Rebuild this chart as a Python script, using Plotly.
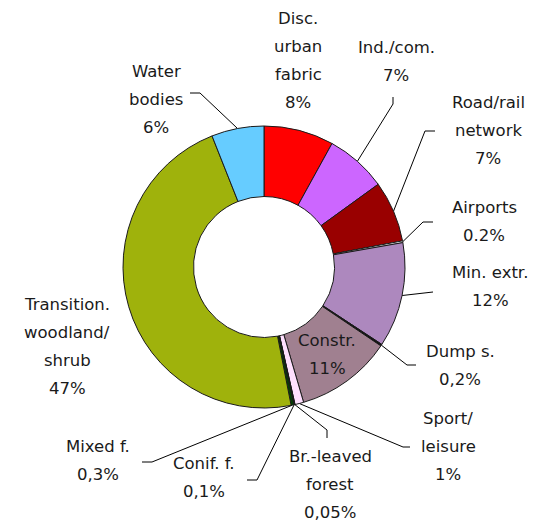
import math
import plotly.graph_objects as go

# ---- data ----
categories = ["Disc. urban fabric", "Ind./com.", "Road/rail network", "Airports",
              "Min. extr.", "Dump s.", "Constr.", "Sport/leisure",
              "Br.-leaved forest", "Conif. f.", "Mixed f.",
              "Transition. woodland/shrub", "Water bodies"]
values = [8, 7, 7, 0.2, 12, 0.2, 11, 1, 0.05, 0.1, 0.3, 47, 6]
pct_labels = ["8%", "7%", "7%", "0.2%", "12%", "0,2%", "11%", "1%",
              "0,05%", "0,1%", "0,3%", "47%", "6%"]
label_lines = [["Disc.", "urban", "fabric"], ["Ind./com."], ["Road/rail", "network"],
               ["Airports"], ["Min. extr."], ["Dump s."], ["Constr."], ["Sport/", "leisure"],
               ["Br.-leaved", "forest"], ["Conif. f."], ["Mixed f."],
               ["Transition.", "woodland/", "shrub"], ["Water", "bodies"]]

# ---- style / layout ----
colors = ["#FF0000", "#CC66FF", "#990000", "#FFFFFF", "#AD88BE", "#111111", "#A08090",
          "#FFE0FF", "#006600", "#003300", "#004400", "#9FB20C", "#66CCFF"]
W, H = 544, 524
OFF = 8  # page body margin: window pixel -> figure pixel
CX, CY, R_OUT = 264 - OFF, 267 - OFF, 141
# label text position (center x, first line center y) in window pixels
label_pos = [(298, 18), (396, 47), (488, 102), (484, 207), (490, 272), (460, 351),
             (327, 340), (448, 418), (330, 456), (204, 463), (98, 446), (67, 304), (156, 71)]
LINE_STEP = 28
# leader line elbow / end points in window pixels (None = no leader)
leaders = [None, [(393, 104), (393, 97)], [(425, 131), (435, 131)], [(423, 222), (433, 222)],
           [(433, 292)], [(407, 365), (416, 365)], None, [(403, 447), (410, 447)],
           [(327, 430), (327, 438)], [(257, 480), (247, 480)], [(152, 462), (142, 462)],
           None, [(200, 93), (190, 93)]]

fig = go.Figure()
fig.add_trace(go.Pie(
    labels=categories, values=values, sort=False, direction="clockwise", rotation=0,
    hole=0.5, textinfo="none", hoverinfo="label+percent",
    marker=dict(colors=colors, line=dict(color="#1a1a1a", width=1)),
    domain=dict(x=[(CX - R_OUT) / W, (CX + R_OUT) / W],
                y=[1 - (CY + R_OUT) / H, 1 - (CY - R_OUT) / H]),
    showlegend=False,
))

total = sum(values)
cum = 0.0
for i, v in enumerate(values):
    mid = (cum + v / 2) / total * 2 * math.pi
    cum += v
    if leaders[i] is not None:
        sx = CX + R_OUT * math.sin(mid)
        sy = CY - R_OUT * math.cos(mid)
        pts = [(sx, sy)] + [(px - OFF, py - OFF) for px, py in leaders[i]]
        fig.add_trace(go.Scatter(x=[p[0] for p in pts], y=[p[1] for p in pts],
                                 mode="lines", line=dict(color="#000000", width=1),
                                 hoverinfo="skip", showlegend=False,
                                 xaxis="x", yaxis="y"))
    lines = label_lines[i] + [pct_labels[i]]
    lx, ly = label_pos[i]
    for k, t in enumerate(lines):
        fig.add_annotation(x=lx - OFF, y=ly - OFF + k * LINE_STEP, xref="x", yref="y", text=t,
                           showarrow=False, xanchor="center", yanchor="middle",
                           font=dict(family="DejaVu Sans", size=16.5, color="#1a1a1a"))

fig.update_layout(
    width=W, height=H, margin=dict(l=0, r=0, t=0, b=0),
    paper_bgcolor="white", plot_bgcolor="rgba(0,0,0,0)",
    xaxis=dict(range=[0, W], domain=[0, 1], visible=False, fixedrange=True),
    yaxis=dict(range=[H, 0], domain=[0, 1], visible=False, fixedrange=True),
)
fig.write_html("out.html")
